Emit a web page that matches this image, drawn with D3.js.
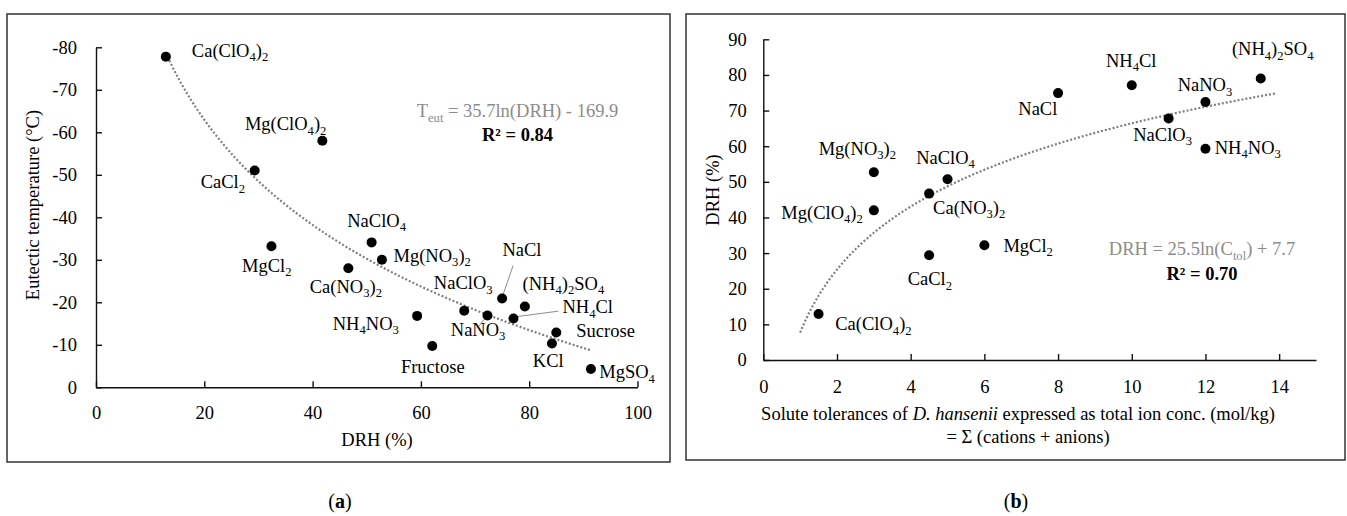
<!DOCTYPE html>
<html>
<head>
<meta charset="utf-8">
<script src="https://cdn.jsdelivr.net/npm/d3@7"></script>
<style>
  body{margin:0;background:#fff;}
  text{font-family:"Liberation Serif","Times New Roman",serif;fill:#000;}
</style>
</head>
<body>
<svg id="chart" width="1347" height="516"></svg>
<script>
/*
  Panel (a): eutectic temperature vs DRH
*/
var saltsA = ["Ca(ClO4)2","Mg(ClO4)2","CaCl2","MgCl2","NaClO4","Mg(NO3)2","Ca(NO3)2","NaClO3","NaCl","(NH4)2SO4","NH4Cl","NH4NO3","NaNO3","Fructose","KCl","Sucrose","MgSO4"];
var drhA   = [12.9, 41.8, 29.3, 32.4, 50.9, 52.8, 46.6, 68.0, 75.0, 79.2, 77.1, 59.3, 72.3, 62.1, 84.2, 85.0, 91.4];
var teutA  = [-77.8, -58.0, -51.0, -33.2, -34.1, -30.0, -28.0, -18.0, -20.9, -19.0, -16.2, -16.8, -16.9, -9.7, -10.3, -12.9, -4.3];
var xTicksA = [0, 20, 40, 60, 80, 100];
var yTicksA = [0, -10, -20, -30, -40, -50, -60, -70, -80];
var fitA = [35.7, -169.9]; // Teut = a ln(DRH) + b
var r2A = "0.84";

/*
  Panel (b): DRH vs solute tolerance of D. hansenii
*/
var saltsB = ["Ca(ClO4)2","Mg(NO3)2","Mg(ClO4)2","CaCl2","Ca(NO3)2","NaClO4","MgCl2","NaCl","NH4Cl","NaClO3","NaNO3","NH4NO3","(NH4)2SO4"];
var ctolB  = [1.5, 3, 3, 4.5, 4.5, 5, 6, 8, 10, 11, 12, 12, 13.5];
var drhB   = [12.9, 52.7, 42.0, 29.4, 46.7, 50.7, 32.2, 74.9, 77.1, 67.8, 72.4, 59.3, 79.0];
var xTicksB = [0, 2, 4, 6, 8, 10, 12, 14];
var yTicksB = [0, 10, 20, 30, 40, 50, 60, 70, 80, 90];
var fitB = [25.5, 7.7]; // DRH = a ln(Ctol) + b
var r2B = "0.70";

//label placement next to each dot: [dx, dy, anchor]
var labelPosA = [[26,0,"start"],[4,-10.7,"end"],[-9.7,17.6,"end"],[-4.7,25.7,"middle"],[5,-15.6,"middle"],[11.6,1.7,"start"],[-2.5,24.4,"middle"],[-1,-21.7,"middle"],[0.3,-42.3,"start"],[-2.3,-16.7,"start"],[49,-5,"start"],[-18.3,14,"end"],[-9.4,20.3,"middle"],[0.5,26.7,"middle"],[-3.7,23.4,"middle"],[20,5,"start"],[8.3,9.3,"start"]];
var leadersA = {"NaCl":[11,-33,1,-4], "NH4Cl":[1.7,-1.6,45,-7.3], "NaNO3":[-8.4,10.3,-1,1]};
var labelPosB = [[16.7,16,"start"],[-16.5,-17.3,"middle"],[-11,8.3,"end"],[0.7,30,"middle"],[4,20,"start"],[-2,-15.7,"middle"],[19,6.7,"start"],[-0.7,22.3,"end"],[-0.5,-18.3,"middle"],[-6,22.4,"middle"],[-0.5,-11,"middle"],[9.3,5,"start"],[12,-23.3,"middle"]];

var svg = d3.select("#chart");
var FS = 18.5;
var SUB = 4.5;

//writes a chemical formula with digits as subscripts
function formula(sel, str){
  var parts = str.split(/(\d+)/).filter(function(p){ return p.length > 0; });
  var down = false;
  parts.forEach(function(p){
    var t = sel.append("tspan").text(p);
    if(/^\d+$/.test(p)){
      t.attr("font-size", "0.68em").attr("dy", down ? 0 : SUB);
      down = true;
    }
    else{
      if(down) t.attr("dy", -SUB);
      down = false;
    }
  });
}

function frame(x0, y0, x1, y1){
  svg.append("rect").attr("x", x0).attr("y", y0).attr("width", x1 - x0).attr("height", y1 - y0)
    .attr("fill", "none").attr("stroke", "#333").attr("stroke-width", 1.5);
}

function styleAxis(g){
  g.selectAll("path, line").attr("stroke", "#111").attr("stroke-width", 1.4);
  g.selectAll("text").attr("font-size", FS).attr("font-family", "Liberation Serif").attr("fill", "#000");
}

function drawPanel(o){
  var x = d3.scaleLinear().domain(o.xDomain).range(o.xRange);
  var y = d3.scaleLinear().domain(o.yDomain).range(o.yRange);

  svg.append("g").attr("transform", "translate(0," + o.yRange[0] + ")")
    .call(d3.axisBottom(x).tickValues(o.xTicks).tickSizeInner(-6).tickSizeOuter(0).tickPadding(o.xPad).tickFormat(function(d){ return String(d); }))
    .call(styleAxis);
  svg.append("g").attr("transform", "translate(" + o.xRange[0] + ",0)")
    .call(d3.axisLeft(y).tickValues(o.yTicks).tickSizeInner(-6).tickSizeOuter(0).tickPadding(o.yPad).tickFormat(function(d){ return String(d); }))
    .call(styleAxis);

  //log trendline from the fitted equation
  var xs = d3.range(0, 201).map(function(i){ return o.fitFrom + (o.fitTo - o.fitFrom) * i / 200; });
  var line = d3.line().x(function(d){ return x(d); }).y(function(d){ return y(o.fit[0] * Math.log(d) + o.fit[1]); });
  svg.append("path").datum(xs).attr("d", line)
    .attr("fill", "none").attr("stroke", "#7f7f7f").attr("stroke-width", 2.2).attr("stroke-dasharray", "2 2");

  //leader lines
  o.names.forEach(function(n, i){
    var l = o.leaders[n];
    if(!l) return;
    var cx = x(o.xs[i]), cy = y(o.ys[i]);
    svg.append("line").attr("x1", cx + l[0]).attr("y1", cy + l[1]).attr("x2", cx + l[2]).attr("y2", cy + l[3])
      .attr("stroke", "#8c8c8c").attr("stroke-width", 1);
  });

  svg.append("g").selectAll("circle").data(o.names).enter().append("circle")
    .attr("cx", function(d, i){ return x(o.xs[i]); })
    .attr("cy", function(d, i){ return y(o.ys[i]); })
    .attr("r", 5).attr("fill", "#000");

  o.names.forEach(function(n, i){
    var p = o.labels[i];
    var t = svg.append("text")
      .attr("x", x(o.xs[i]) + p[0]).attr("y", y(o.ys[i]) + p[1])
      .attr("text-anchor", p[2]).attr("font-size", FS);
    formula(t, n);
  });
}

frame(7, 14, 670, 462);
frame(686, 14, 1345, 460);

drawPanel({
  names: saltsA, xs: drhA, ys: teutA,
  xDomain: [0, 100], xRange: [96, 637.5],
  yDomain: [0, -80], yRange: [387.3, 47.3],
  xTicks: xTicksA, yTicks: yTicksA, xPad: 19, yPad: 19,
  fit: fitA, fitFrom: d3.min(drhA), fitTo: d3.max(drhA),
  labels: labelPosA, leaders: leadersA
});

drawPanel({
  names: saltsB, xs: ctolB, ys: drhB,
  xDomain: [0, 15], xRange: [763.3, 1316],
  yDomain: [0, 90], yRange: [360, 39.3],
  xTicks: xTicksB, yTicks: yTicksB, xPad: 20, yPad: 16.6,
  fit: fitB, fitFrom: 1, fitTo: 13.9,
  labels: labelPosB, leaders: {}
});

//equations
var eqA = svg.append("text").attr("x", 517.5).attr("y", 117).attr("text-anchor", "middle").attr("font-size", FS);
eqA.append("tspan").text("T").attr("fill", "#8c8c8c");
eqA.append("tspan").text("eut").attr("fill", "#8c8c8c").attr("font-size", "0.68em").attr("dy", SUB);
eqA.append("tspan").text(" = " + fitA[0] + "ln(DRH) - " + Math.abs(fitA[1])).attr("fill", "#8c8c8c").attr("dy", -SUB);
svg.append("text").attr("x", 517.5).attr("y", 141).attr("text-anchor", "middle").attr("font-size", FS)
  .attr("font-weight", "bold").text("R\u00b2 = " + r2A);

var eqB = svg.append("text").attr("x", 1202).attr("y", 255).attr("text-anchor", "middle").attr("font-size", FS);
eqB.append("tspan").text("DRH = " + fitB[0] + "ln(C").attr("fill", "#8c8c8c");
eqB.append("tspan").text("tol").attr("fill", "#8c8c8c").attr("font-size", "0.68em").attr("dy", SUB);
eqB.append("tspan").text(") + " + fitB[1]).attr("fill", "#8c8c8c").attr("dy", -SUB);
svg.append("text").attr("x", 1202).attr("y", 280).attr("text-anchor", "middle").attr("font-size", FS)
  .attr("font-weight", "bold").text("R\u00b2 = " + r2B);

//axis titles
svg.append("text").attr("transform", "translate(39,205) rotate(-90)").attr("text-anchor", "middle")
  .attr("font-size", FS).text("Eutectic temperature (\u00b0C)");
svg.append("text").attr("x", 377).attr("y", 446).attr("text-anchor", "middle").attr("font-size", FS).text("DRH (%)");
svg.append("text").attr("transform", "translate(719,190) rotate(-90)").attr("text-anchor", "middle")
  .attr("font-size", FS).text("DRH (%)");
var xt = svg.append("text").attr("x", 1018).attr("y", 420).attr("text-anchor", "middle").attr("font-size", FS);
xt.append("tspan").text("Solute tolerances of ");
xt.append("tspan").text("D. hansenii").attr("font-style", "italic");
xt.append("tspan").text(" expressed as total ion conc. (mol/kg)");
svg.append("text").attr("x", 1028).attr("y", 443).attr("text-anchor", "middle").attr("font-size", FS)
  .text("= \u03a3 (cations + anions)");

//panel letters
[["a", 340], ["b", 1016]].forEach(function(p){
  var t = svg.append("text").attr("x", p[1]).attr("y", 508).attr("text-anchor", "middle").attr("font-size", 20);
  t.append("tspan").text("(");
  t.append("tspan").text(p[0]).attr("font-weight", "bold");
  t.append("tspan").text(")");
});
</script>
</body>
</html>
